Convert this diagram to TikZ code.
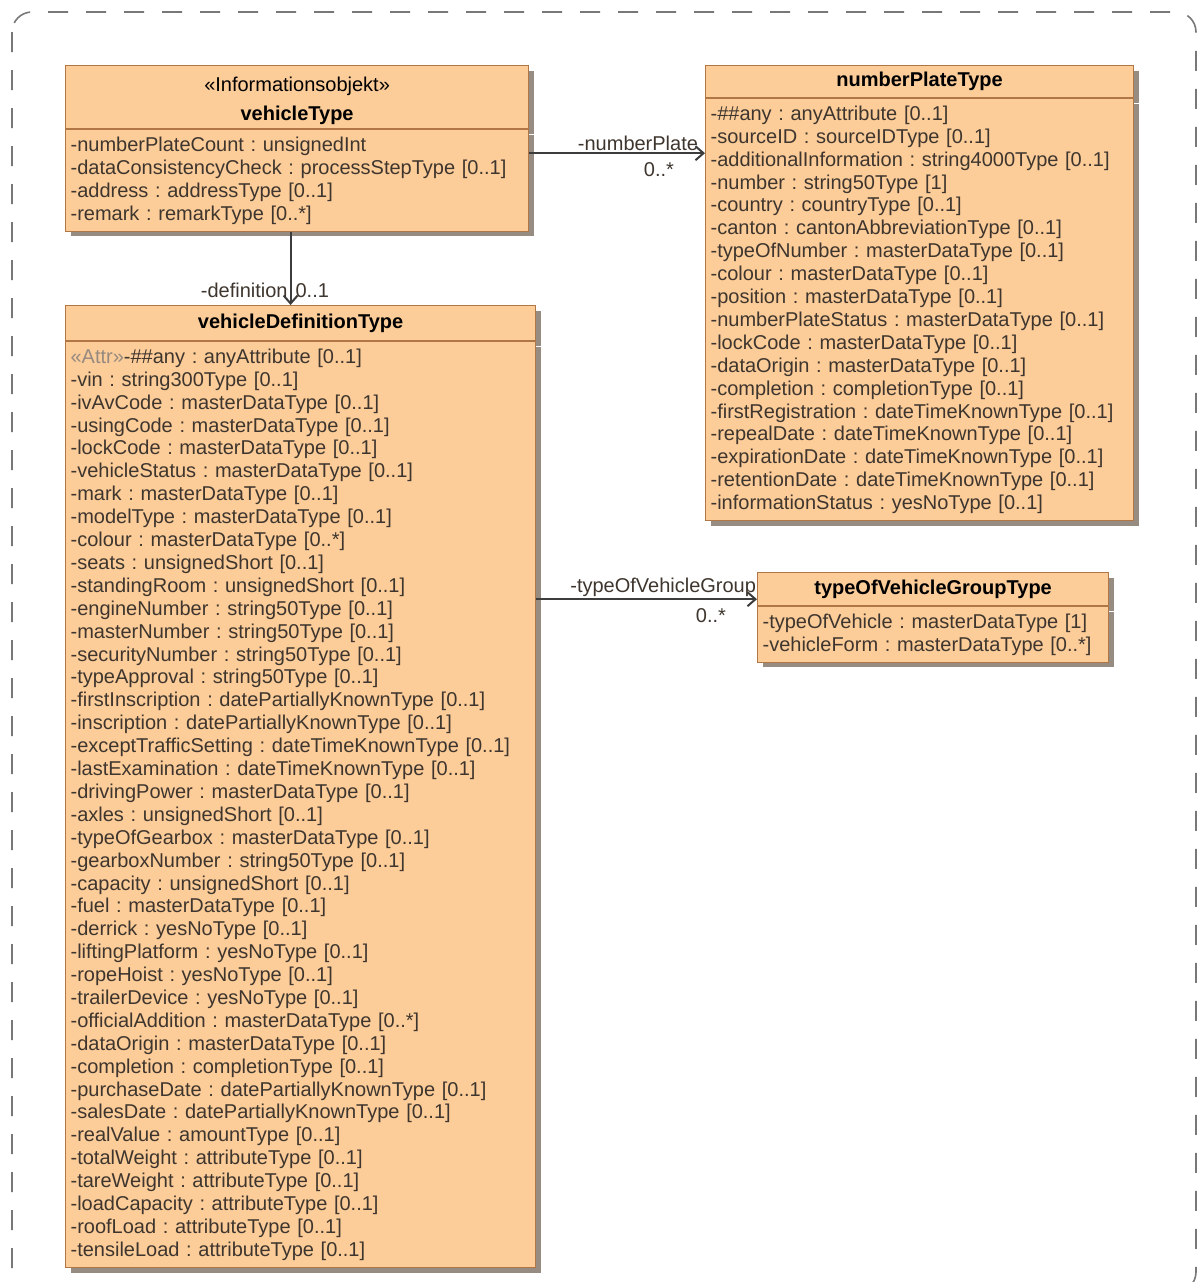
\documentclass[tikz,border=0pt]{standalone}
\usepackage{fontspec}
\setmainfont{Liberation Sans}
\usetikzlibrary{positioning,shadows,arrows.meta}
\definecolor{clsfill}{RGB}{252,204,153}
\definecolor{clsline}{RGB}{176,118,70}
\definecolor{clsshade}{RGB}{150,140,130}
\definecolor{clstext}{RGB}{62,54,46}
\definecolor{attrgray}{RGB}{150,138,128}
\definecolor{framegray}{RGB}{120,120,120}
\definecolor{assocgray}{RGB}{60,60,60}
\frenchspacing

\begin{document}
\begin{tikzpicture}[x=0.5pt,y=-0.5pt,
  cls/.style={draw=clsline,fill=clsfill,line width=0.6pt,inner xsep=2.5pt,drop shadow={shadow xshift=2.5pt,shadow yshift=-2.5pt,fill=clsshade,opacity=1}},
  clshead/.style={cls,anchor=north west,align=center,inner ysep=1pt,font=\fontsize{10}{14.5}\selectfont},
  clsbody/.style={cls,anchor=north,align=left,inner ysep=3.5pt,text=clstext,font=\fontsize{10}{11.45}\selectfont},
  assoc/.style={draw=assocgray,line width=1pt,-{Straight Barb[length=4pt,width=7pt]}},
  role/.style={text=clstext,font=\fontsize{10}{12}\selectfont,inner sep=1pt}]
\useasboundingbox (0,0) rectangle (1201,1282);
\draw[framegray,line width=0.8pt,dash pattern=on 10pt off 9pt,rounded corners=10pt] (12,12) rectangle (1196,1292);

\node[clshead,text width=226.5pt,minimum height=31.5pt] (vt) at (65,65) {\rule{0pt}{10.5pt}«Informationsobjekt»\\\textbf{vehicleType}};
\node[clsbody,text width=226.5pt,below=0pt of vt] (vtb) {-numberPlateCount : unsignedInt\\
-dataConsistencyCheck : processStepType [0..1]\\
-address : addressType [0..1]\\
-remark : remarkType [0..*]};

\node[clshead,text width=209pt,minimum height=16pt] (npt) at (705,65) {\textbf{numberPlateType}};
\node[clsbody,text width=209pt,below=0pt of npt] (nptb) {-\#\#any : anyAttribute [0..1]\\
-sourceID : sourceIDType [0..1]\\
-additionalInformation : string4000Type [0..1]\\
-number : string50Type [1]\\
-country : countryType [0..1]\\
-canton : cantonAbbreviationType [0..1]\\
-typeOfNumber : masterDataType [0..1]\\
-colour : masterDataType [0..1]\\
-position : masterDataType [0..1]\\
-numberPlateStatus : masterDataType [0..1]\\
-lockCode : masterDataType [0..1]\\
-dataOrigin : masterDataType [0..1]\\
-completion : completionType [0..1]\\
-firstRegistration : dateTimeKnownType [0..1]\\
-repealDate : dateTimeKnownType [0..1]\\
-expirationDate : dateTimeKnownType [0..1]\\
-retentionDate : dateTimeKnownType [0..1]\\
-informationStatus : yesNoType [0..1]};

\node[clshead,text width=230pt,minimum height=17.5pt] (vdt) at (65,305) {\textbf{vehicleDefinitionType}};
\node[clsbody,text width=230pt,below=0pt of vdt] (vdtb) {{\color{attrgray}«Attr»}-\#\#any : anyAttribute [0..1]\\
-vin : string300Type [0..1]\\
-ivAvCode : masterDataType [0..1]\\
-usingCode : masterDataType [0..1]\\
-lockCode : masterDataType [0..1]\\
-vehicleStatus : masterDataType [0..1]\\
-mark : masterDataType [0..1]\\
-modelType : masterDataType [0..1]\\
-colour : masterDataType [0..*]\\
-seats : unsignedShort [0..1]\\
-standingRoom : unsignedShort [0..1]\\
-engineNumber : string50Type [0..1]\\
-masterNumber : string50Type [0..1]\\
-securityNumber : string50Type [0..1]\\
-typeApproval : string50Type [0..1]\\
-firstInscription : datePartiallyKnownType [0..1]\\
-inscription : datePartiallyKnownType [0..1]\\
-exceptTrafficSetting : dateTimeKnownType [0..1]\\
-lastExamination : dateTimeKnownType [0..1]\\
-drivingPower : masterDataType [0..1]\\
-axles : unsignedShort [0..1]\\
-typeOfGearbox : masterDataType [0..1]\\
-gearboxNumber : string50Type [0..1]\\
-capacity : unsignedShort [0..1]\\
-fuel : masterDataType [0..1]\\
-derrick : yesNoType [0..1]\\
-liftingPlatform : yesNoType [0..1]\\
-ropeHoist : yesNoType [0..1]\\
-trailerDevice : yesNoType [0..1]\\
-officialAddition : masterDataType [0..*]\\
-dataOrigin : masterDataType [0..1]\\
-completion : completionType [0..1]\\
-purchaseDate : datePartiallyKnownType [0..1]\\
-salesDate : datePartiallyKnownType [0..1]\\
-realValue : amountType [0..1]\\
-totalWeight : attributeType [0..1]\\
-tareWeight : attributeType [0..1]\\
-loadCapacity : attributeType [0..1]\\
-roofLoad : attributeType [0..1]\\
-tensileLoad : attributeType [0..1]};

\node[clshead,text width=170.5pt,minimum height=16.5pt] (tovg) at (757,572) {\textbf{typeOfVehicleGroupType}};
\node[clsbody,text width=170.5pt,below=0pt of tovg] (tovgb) {-typeOfVehicle : masterDataType [1]\\
-vehicleForm : masterDataType [0..*]};

\coordinate (np-out) at ([yshift=-12pt]vtb.north east);
\coordinate (def-out) at ([xshift=-3.25pt]vtb.south);
\coordinate (grp-out) at ([yshift=-129pt]vdtb.north east);
\draw[assoc] (np-out) -- (np-out -| npt.west) node[role,pos=1,above left,xshift=-2pt]{-numberPlate} node[role,pos=1,below left,xshift=-14pt,yshift=-3pt]{0..*};
\draw[assoc] (def-out) -- (def-out |- vdt.north) node[role,pos=1,above left,yshift=2pt]{-definition} node[role,pos=1,above right,xshift=1pt,yshift=2pt]{0..1};
\draw[assoc] (grp-out) -- (grp-out -| tovg.west) node[role,pos=1,above left,xshift=1pt]{-typeOfVehicleGroup} node[role,pos=1,below left,xshift=-14pt,yshift=-3pt]{0..*};
\end{tikzpicture}
\end{document}
